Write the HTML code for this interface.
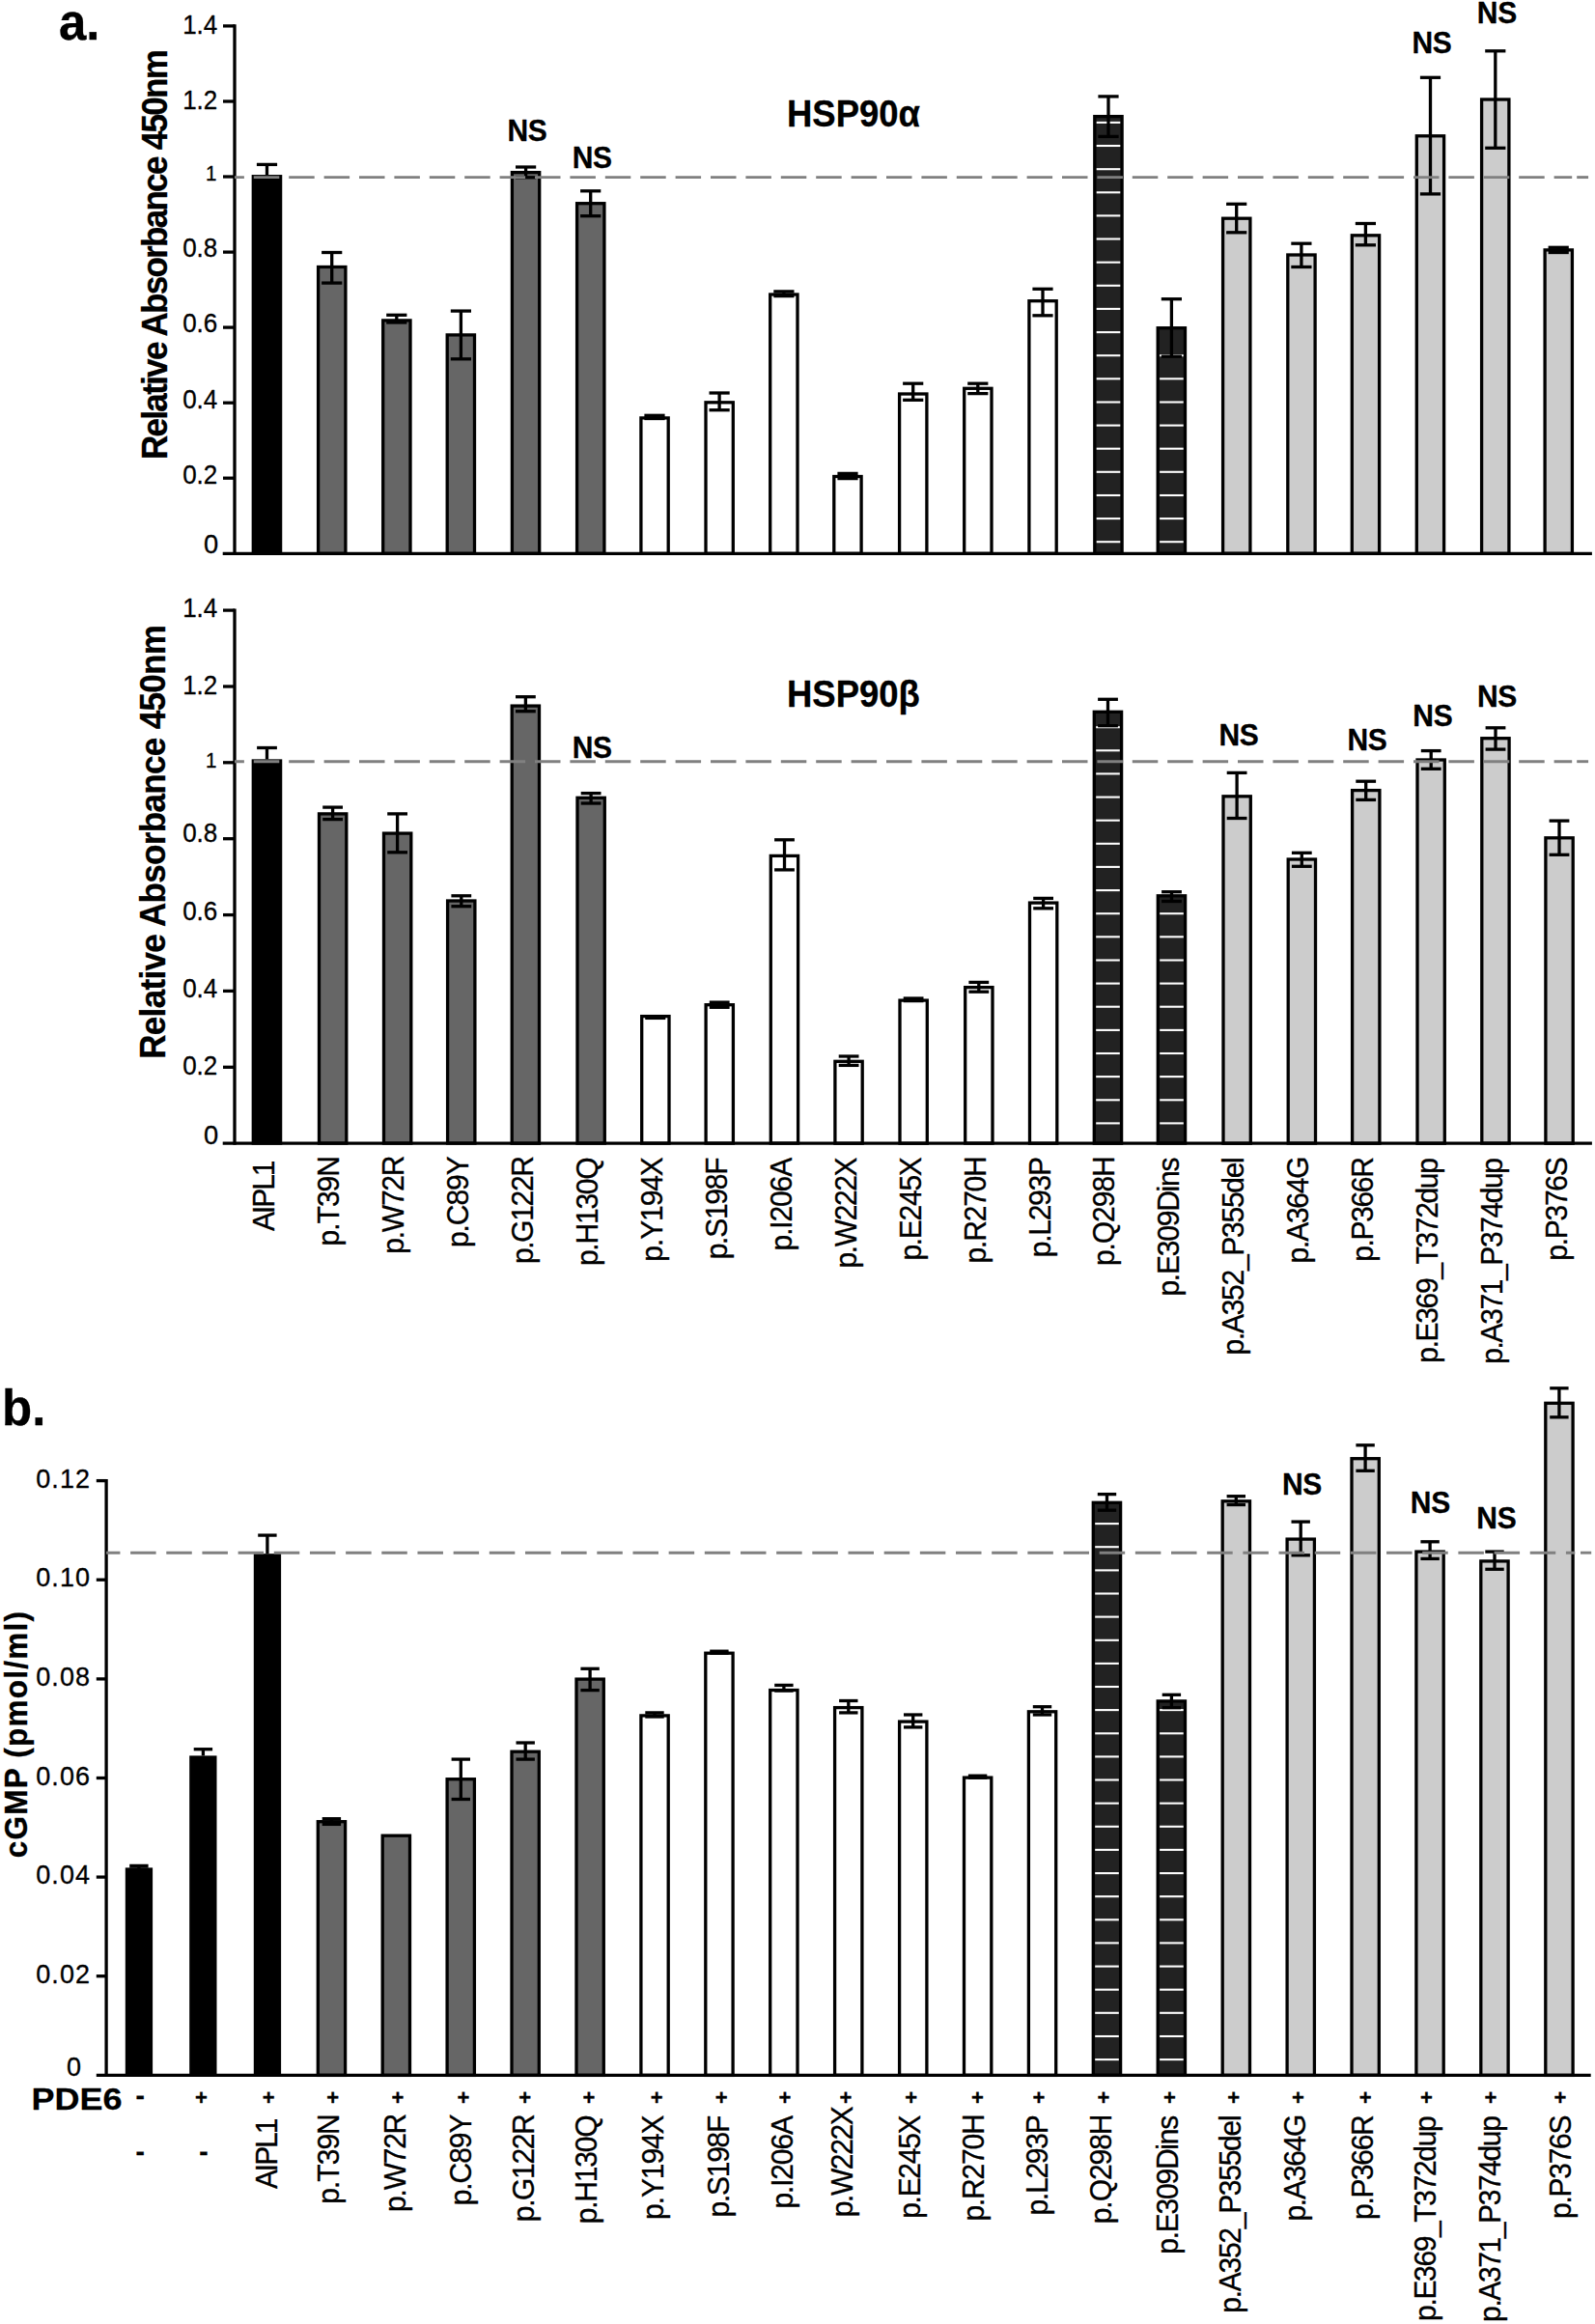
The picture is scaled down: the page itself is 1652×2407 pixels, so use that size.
<!DOCTYPE html>
<html lang="en">
<head>
<meta charset="utf-8">
<title>Figure</title>
<style>
html,body{margin:0;padding:0;background:#fff;}
body{width:1652px;height:2407px;overflow:hidden;}
svg{display:block;}
text{font-family:"Liberation Sans", Arial, Helvetica, sans-serif;stroke:#000;stroke-width:0.3px;stroke-linejoin:round;}
</style>
</head>
<body>
<svg width="1652" height="2407" viewBox="0 0 1652 2407" font-family='"Liberation Sans", Arial, Helvetica, sans-serif' fill="#000">
<rect width="1652" height="2407" fill="#fff"/>
<text transform="translate(61.0 40.7)" font-size="51" font-weight="bold">a.</text>
<text transform="translate(2.0 1475.5)" font-size="51" font-weight="bold">b.</text>
<rect x="262.3" y="182.7" width="28.3" height="390.5" fill="#000" stroke="#000" stroke-width="3.3"/>
<rect x="329.6" y="276.5" width="28.3" height="296.8" fill="#666" stroke="#000" stroke-width="3.3"/>
<rect x="396.7" y="331.9" width="28.3" height="241.4" fill="#666" stroke="#000" stroke-width="3.3"/>
<rect x="463.2" y="346.9" width="28.3" height="226.4" fill="#666" stroke="#000" stroke-width="3.3"/>
<rect x="530.4" y="178.6" width="28.3" height="394.7" fill="#666" stroke="#000" stroke-width="3.3"/>
<rect x="597.6" y="210.7" width="28.3" height="362.6" fill="#666" stroke="#000" stroke-width="3.3"/>
<rect x="663.9" y="432.9" width="28.3" height="140.4" fill="#fff" stroke="#000" stroke-width="3.3"/>
<rect x="731.0" y="416.8" width="28.3" height="156.5" fill="#fff" stroke="#000" stroke-width="3.3"/>
<rect x="797.7" y="305.0" width="28.3" height="268.3" fill="#fff" stroke="#000" stroke-width="3.3"/>
<rect x="863.8" y="493.5" width="28.3" height="79.8" fill="#fff" stroke="#000" stroke-width="3.3"/>
<rect x="931.6" y="408.0" width="28.3" height="165.3" fill="#fff" stroke="#000" stroke-width="3.3"/>
<rect x="998.7" y="402.3" width="28.3" height="171.0" fill="#fff" stroke="#000" stroke-width="3.3"/>
<rect x="1065.9" y="311.7" width="28.3" height="261.6" fill="#fff" stroke="#000" stroke-width="3.3"/>
<rect x="1133.8" y="120.6" width="28.3" height="452.7" fill="#222" stroke="#000" stroke-width="3.3"/>
<line x1="1135.7" x2="1160.3" y1="126.9" y2="126.9" stroke="#fff" stroke-width="2.1"/>
<line x1="1135.7" x2="1160.3" y1="151.0" y2="151.0" stroke="#fff" stroke-width="2.1"/>
<line x1="1135.7" x2="1160.3" y1="175.2" y2="175.2" stroke="#fff" stroke-width="2.1"/>
<line x1="1135.7" x2="1160.3" y1="199.3" y2="199.3" stroke="#fff" stroke-width="2.1"/>
<line x1="1135.7" x2="1160.3" y1="223.4" y2="223.4" stroke="#fff" stroke-width="2.1"/>
<line x1="1135.7" x2="1160.3" y1="247.5" y2="247.5" stroke="#fff" stroke-width="2.1"/>
<line x1="1135.7" x2="1160.3" y1="271.7" y2="271.7" stroke="#fff" stroke-width="2.1"/>
<line x1="1135.7" x2="1160.3" y1="295.8" y2="295.8" stroke="#fff" stroke-width="2.1"/>
<line x1="1135.7" x2="1160.3" y1="319.9" y2="319.9" stroke="#fff" stroke-width="2.1"/>
<line x1="1135.7" x2="1160.3" y1="344.1" y2="344.1" stroke="#fff" stroke-width="2.1"/>
<line x1="1135.7" x2="1160.3" y1="368.2" y2="368.2" stroke="#fff" stroke-width="2.1"/>
<line x1="1135.7" x2="1160.3" y1="392.3" y2="392.3" stroke="#fff" stroke-width="2.1"/>
<line x1="1135.7" x2="1160.3" y1="416.5" y2="416.5" stroke="#fff" stroke-width="2.1"/>
<line x1="1135.7" x2="1160.3" y1="440.6" y2="440.6" stroke="#fff" stroke-width="2.1"/>
<line x1="1135.7" x2="1160.3" y1="464.7" y2="464.7" stroke="#fff" stroke-width="2.1"/>
<line x1="1135.7" x2="1160.3" y1="488.8" y2="488.8" stroke="#fff" stroke-width="2.1"/>
<line x1="1135.7" x2="1160.3" y1="513.0" y2="513.0" stroke="#fff" stroke-width="2.1"/>
<line x1="1135.7" x2="1160.3" y1="537.1" y2="537.1" stroke="#fff" stroke-width="2.1"/>
<line x1="1135.7" x2="1160.3" y1="561.2" y2="561.2" stroke="#fff" stroke-width="2.1"/>
<rect x="1199.2" y="339.7" width="28.3" height="233.6" fill="#222" stroke="#000" stroke-width="3.3"/>
<line x1="1201.1" x2="1225.7" y1="368.2" y2="368.2" stroke="#fff" stroke-width="2.1"/>
<line x1="1201.1" x2="1225.7" y1="392.3" y2="392.3" stroke="#fff" stroke-width="2.1"/>
<line x1="1201.1" x2="1225.7" y1="416.5" y2="416.5" stroke="#fff" stroke-width="2.1"/>
<line x1="1201.1" x2="1225.7" y1="440.6" y2="440.6" stroke="#fff" stroke-width="2.1"/>
<line x1="1201.1" x2="1225.7" y1="464.7" y2="464.7" stroke="#fff" stroke-width="2.1"/>
<line x1="1201.1" x2="1225.7" y1="488.8" y2="488.8" stroke="#fff" stroke-width="2.1"/>
<line x1="1201.1" x2="1225.7" y1="513.0" y2="513.0" stroke="#fff" stroke-width="2.1"/>
<line x1="1201.1" x2="1225.7" y1="537.1" y2="537.1" stroke="#fff" stroke-width="2.1"/>
<line x1="1201.1" x2="1225.7" y1="561.2" y2="561.2" stroke="#fff" stroke-width="2.1"/>
<rect x="1266.6" y="226.2" width="28.3" height="347.0" fill="#ccc" stroke="#000" stroke-width="3.3"/>
<rect x="1333.8" y="264.0" width="28.3" height="309.2" fill="#ccc" stroke="#000" stroke-width="3.3"/>
<rect x="1400.3" y="243.8" width="28.3" height="329.4" fill="#ccc" stroke="#000" stroke-width="3.3"/>
<rect x="1467.3" y="140.8" width="28.3" height="432.5" fill="#ccc" stroke="#000" stroke-width="3.3"/>
<rect x="1534.6" y="103.0" width="28.3" height="470.3" fill="#ccc" stroke="#000" stroke-width="3.3"/>
<rect x="1600.1" y="258.9" width="28.3" height="314.4" fill="#ccc" stroke="#000" stroke-width="3.3"/>
<line x1="276.5" x2="276.5" y1="170.4" y2="181.1" stroke="#000" stroke-width="3.3"/>
<line x1="265.9" x2="287.1" y1="170.4" y2="170.4" stroke="#000" stroke-width="3.3"/>
<line x1="343.7" x2="343.7" y1="261.5" y2="293.1" stroke="#000" stroke-width="3.3"/>
<line x1="333.1" x2="354.3" y1="261.5" y2="261.5" stroke="#000" stroke-width="3.3"/>
<line x1="333.1" x2="354.3" y1="293.1" y2="293.1" stroke="#000" stroke-width="3.3"/>
<line x1="410.8" x2="410.8" y1="326.3" y2="334.0" stroke="#000" stroke-width="3.3"/>
<line x1="400.2" x2="421.4" y1="326.3" y2="326.3" stroke="#000" stroke-width="3.3"/>
<line x1="400.2" x2="421.4" y1="334.0" y2="334.0" stroke="#000" stroke-width="3.3"/>
<line x1="477.4" x2="477.4" y1="322.1" y2="371.8" stroke="#000" stroke-width="3.3"/>
<line x1="466.8" x2="488.0" y1="322.1" y2="322.1" stroke="#000" stroke-width="3.3"/>
<line x1="466.8" x2="488.0" y1="371.8" y2="371.8" stroke="#000" stroke-width="3.3"/>
<line x1="544.6" x2="544.6" y1="173.0" y2="183.8" stroke="#000" stroke-width="3.3"/>
<line x1="534.0" x2="555.2" y1="173.0" y2="173.0" stroke="#000" stroke-width="3.3"/>
<line x1="534.0" x2="555.2" y1="183.8" y2="183.8" stroke="#000" stroke-width="3.3"/>
<line x1="611.7" x2="611.7" y1="197.8" y2="223.7" stroke="#000" stroke-width="3.3"/>
<line x1="601.1" x2="622.3" y1="197.8" y2="197.8" stroke="#000" stroke-width="3.3"/>
<line x1="601.1" x2="622.3" y1="223.7" y2="223.7" stroke="#000" stroke-width="3.3"/>
<line x1="678.0" x2="678.0" y1="430.3" y2="433.5" stroke="#000" stroke-width="3.3"/>
<line x1="667.4" x2="688.6" y1="430.3" y2="430.3" stroke="#000" stroke-width="3.3"/>
<line x1="667.4" x2="688.6" y1="433.5" y2="433.5" stroke="#000" stroke-width="3.3"/>
<line x1="745.1" x2="745.1" y1="407.0" y2="424.7" stroke="#000" stroke-width="3.3"/>
<line x1="734.5" x2="755.7" y1="407.0" y2="407.0" stroke="#000" stroke-width="3.3"/>
<line x1="734.5" x2="755.7" y1="424.7" y2="424.7" stroke="#000" stroke-width="3.3"/>
<line x1="811.9" x2="811.9" y1="301.9" y2="306.6" stroke="#000" stroke-width="3.3"/>
<line x1="801.3" x2="822.5" y1="301.9" y2="301.9" stroke="#000" stroke-width="3.3"/>
<line x1="801.3" x2="822.5" y1="306.6" y2="306.6" stroke="#000" stroke-width="3.3"/>
<line x1="878.0" x2="878.0" y1="490.4" y2="495.6" stroke="#000" stroke-width="3.3"/>
<line x1="867.4" x2="888.6" y1="490.4" y2="490.4" stroke="#000" stroke-width="3.3"/>
<line x1="867.4" x2="888.6" y1="495.6" y2="495.6" stroke="#000" stroke-width="3.3"/>
<line x1="945.7" x2="945.7" y1="397.2" y2="414.3" stroke="#000" stroke-width="3.3"/>
<line x1="935.1" x2="956.3" y1="397.2" y2="397.2" stroke="#000" stroke-width="3.3"/>
<line x1="935.1" x2="956.3" y1="414.3" y2="414.3" stroke="#000" stroke-width="3.3"/>
<line x1="1012.8" x2="1012.8" y1="397.2" y2="407.6" stroke="#000" stroke-width="3.3"/>
<line x1="1002.2" x2="1023.4" y1="397.2" y2="397.2" stroke="#000" stroke-width="3.3"/>
<line x1="1002.2" x2="1023.4" y1="407.6" y2="407.6" stroke="#000" stroke-width="3.3"/>
<line x1="1080.0" x2="1080.0" y1="299.3" y2="326.8" stroke="#000" stroke-width="3.3"/>
<line x1="1069.4" x2="1090.6" y1="299.3" y2="299.3" stroke="#000" stroke-width="3.3"/>
<line x1="1069.4" x2="1090.6" y1="326.8" y2="326.8" stroke="#000" stroke-width="3.3"/>
<line x1="1148.0" x2="1148.0" y1="99.9" y2="141.4" stroke="#000" stroke-width="3.3"/>
<line x1="1137.4" x2="1158.6" y1="99.9" y2="99.9" stroke="#000" stroke-width="3.3"/>
<line x1="1137.4" x2="1158.6" y1="141.4" y2="141.4" stroke="#000" stroke-width="3.3"/>
<line x1="1213.4" x2="1213.4" y1="309.7" y2="369.2" stroke="#000" stroke-width="3.3"/>
<line x1="1202.8" x2="1224.0" y1="309.7" y2="309.7" stroke="#000" stroke-width="3.3"/>
<line x1="1202.8" x2="1224.0" y1="369.2" y2="369.2" stroke="#000" stroke-width="3.3"/>
<line x1="1280.7" x2="1280.7" y1="211.3" y2="240.8" stroke="#000" stroke-width="3.3"/>
<line x1="1270.1" x2="1291.3" y1="211.3" y2="211.3" stroke="#000" stroke-width="3.3"/>
<line x1="1270.1" x2="1291.3" y1="240.8" y2="240.8" stroke="#000" stroke-width="3.3"/>
<line x1="1347.9" x2="1347.9" y1="252.2" y2="276.5" stroke="#000" stroke-width="3.3"/>
<line x1="1337.3" x2="1358.5" y1="252.2" y2="252.2" stroke="#000" stroke-width="3.3"/>
<line x1="1337.3" x2="1358.5" y1="276.5" y2="276.5" stroke="#000" stroke-width="3.3"/>
<line x1="1414.4" x2="1414.4" y1="231.5" y2="253.8" stroke="#000" stroke-width="3.3"/>
<line x1="1403.8" x2="1425.0" y1="231.5" y2="231.5" stroke="#000" stroke-width="3.3"/>
<line x1="1403.8" x2="1425.0" y1="253.8" y2="253.8" stroke="#000" stroke-width="3.3"/>
<line x1="1481.5" x2="1481.5" y1="80.3" y2="200.9" stroke="#000" stroke-width="3.3"/>
<line x1="1470.9" x2="1492.1" y1="80.3" y2="80.3" stroke="#000" stroke-width="3.3"/>
<line x1="1470.9" x2="1492.1" y1="200.9" y2="200.9" stroke="#000" stroke-width="3.3"/>
<line x1="1548.8" x2="1548.8" y1="52.8" y2="153.3" stroke="#000" stroke-width="3.3"/>
<line x1="1538.2" x2="1559.4" y1="52.8" y2="52.8" stroke="#000" stroke-width="3.3"/>
<line x1="1538.2" x2="1559.4" y1="153.3" y2="153.3" stroke="#000" stroke-width="3.3"/>
<line x1="1614.2" x2="1614.2" y1="256.3" y2="261.5" stroke="#000" stroke-width="3.3"/>
<line x1="1603.6" x2="1624.8" y1="256.3" y2="256.3" stroke="#000" stroke-width="3.3"/>
<line x1="1603.6" x2="1624.8" y1="261.5" y2="261.5" stroke="#000" stroke-width="3.3"/>
<line x1="243.0" x2="243.0" y1="25.2" y2="574.9" stroke="#000" stroke-width="3.3"/>
<line x1="230.7" x2="1648.9" y1="573.3" y2="573.3" stroke="#000" stroke-width="3.3"/>
<text transform="translate(226.1 573.0) scale(1 1.04)" font-size="27.3" text-anchor="end">0</text>
<line x1="231" x2="243.0" y1="495.2" y2="495.2" stroke="#000" stroke-width="3.3"/>
<text transform="translate(225.3 501.4) scale(1 1.04)" font-size="26" text-anchor="end">0.2</text>
<line x1="231" x2="243.0" y1="417.2" y2="417.2" stroke="#000" stroke-width="3.3"/>
<text transform="translate(225.3 423.3) scale(1 1.04)" font-size="26" text-anchor="end">0.4</text>
<line x1="231" x2="243.0" y1="339.1" y2="339.1" stroke="#000" stroke-width="3.3"/>
<text transform="translate(225.3 343.9) scale(1 1.04)" font-size="26" text-anchor="end">0.6</text>
<line x1="231" x2="243.0" y1="261.1" y2="261.1" stroke="#000" stroke-width="3.3"/>
<text transform="translate(225.3 266.2) scale(1 1.04)" font-size="26" text-anchor="end">0.8</text>
<line x1="231" x2="243.0" y1="183.0" y2="183.0" stroke="#000" stroke-width="3.3"/>
<text transform="translate(224.3 187.4) scale(1 1.04)" font-size="20.5" text-anchor="end">1</text>
<line x1="231" x2="243.0" y1="105.0" y2="105.0" stroke="#000" stroke-width="3.3"/>
<text transform="translate(225.3 112.8) scale(1 1.04)" font-size="26" text-anchor="end">1.2</text>
<line x1="231" x2="243.0" y1="26.9" y2="26.9" stroke="#000" stroke-width="3.3"/>
<text transform="translate(225.3 34.7) scale(1 1.04)" font-size="26" text-anchor="end">1.4</text>
<line x1="243.0" x2="1628.2" y1="183.6" y2="183.6" stroke="#808080" stroke-width="2.9" stroke-dasharray="26.5 9.9" stroke-dashoffset="16.6"/>
<line x1="1633.2" x2="1645.1" y1="183.6" y2="183.6" stroke="#808080" stroke-width="2.9"/>
<text transform="translate(173.0 476.0) rotate(-90) scale(1 1.04)" font-size="35" font-weight="bold" letter-spacing="-1.69">Relative Absorbance 450nm</text>
<text transform="translate(815.0 131.4) scale(1 1.04)" font-size="36.5" font-weight="bold">HSP90α</text>
<text transform="translate(545.9 146.0) scale(1 1.04)" font-size="30" font-weight="bold" text-anchor="middle" letter-spacing="-0.4">NS</text>
<text transform="translate(613.2 173.5) scale(1 1.04)" font-size="30" font-weight="bold" text-anchor="middle" letter-spacing="-0.4">NS</text>
<text transform="translate(1483.0 55.4) scale(1 1.04)" font-size="30" font-weight="bold" text-anchor="middle" letter-spacing="-0.4">NS</text>
<text transform="translate(1550.3 24.3) scale(1 1.04)" font-size="30" font-weight="bold" text-anchor="middle" letter-spacing="-0.4">NS</text>
<rect x="262.3" y="788.0" width="28.3" height="396.1" fill="#000" stroke="#000" stroke-width="3.3"/>
<rect x="330.5" y="842.9" width="28.3" height="341.2" fill="#666" stroke="#000" stroke-width="3.3"/>
<rect x="397.5" y="863.1" width="28.3" height="321.0" fill="#666" stroke="#000" stroke-width="3.3"/>
<rect x="463.6" y="933.0" width="28.3" height="251.1" fill="#666" stroke="#000" stroke-width="3.3"/>
<rect x="530.2" y="731.1" width="28.3" height="453.1" fill="#666" stroke="#000" stroke-width="3.3"/>
<rect x="598.0" y="826.3" width="28.3" height="357.8" fill="#666" stroke="#000" stroke-width="3.3"/>
<rect x="664.7" y="1052.6" width="28.3" height="131.5" fill="#fff" stroke="#000" stroke-width="3.3"/>
<rect x="731.1" y="1040.7" width="28.3" height="143.4" fill="#fff" stroke="#000" stroke-width="3.3"/>
<rect x="798.3" y="886.4" width="28.3" height="297.7" fill="#fff" stroke="#000" stroke-width="3.3"/>
<rect x="864.9" y="1099.3" width="28.3" height="84.9" fill="#fff" stroke="#000" stroke-width="3.3"/>
<rect x="932.0" y="1036.1" width="28.3" height="148.1" fill="#fff" stroke="#000" stroke-width="3.3"/>
<rect x="999.7" y="1022.6" width="28.3" height="161.5" fill="#fff" stroke="#000" stroke-width="3.3"/>
<rect x="1066.5" y="935.1" width="28.3" height="249.1" fill="#fff" stroke="#000" stroke-width="3.3"/>
<rect x="1133.3" y="737.3" width="28.3" height="446.9" fill="#222" stroke="#000" stroke-width="3.3"/>
<line x1="1135.2" x2="1159.8" y1="753.2" y2="753.2" stroke="#fff" stroke-width="2.1"/>
<line x1="1135.2" x2="1159.8" y1="777.3" y2="777.3" stroke="#fff" stroke-width="2.1"/>
<line x1="1135.2" x2="1159.8" y1="801.4" y2="801.4" stroke="#fff" stroke-width="2.1"/>
<line x1="1135.2" x2="1159.8" y1="825.6" y2="825.6" stroke="#fff" stroke-width="2.1"/>
<line x1="1135.2" x2="1159.8" y1="849.7" y2="849.7" stroke="#fff" stroke-width="2.1"/>
<line x1="1135.2" x2="1159.8" y1="873.8" y2="873.8" stroke="#fff" stroke-width="2.1"/>
<line x1="1135.2" x2="1159.8" y1="897.9" y2="897.9" stroke="#fff" stroke-width="2.1"/>
<line x1="1135.2" x2="1159.8" y1="922.1" y2="922.1" stroke="#fff" stroke-width="2.1"/>
<line x1="1135.2" x2="1159.8" y1="946.2" y2="946.2" stroke="#fff" stroke-width="2.1"/>
<line x1="1135.2" x2="1159.8" y1="970.3" y2="970.3" stroke="#fff" stroke-width="2.1"/>
<line x1="1135.2" x2="1159.8" y1="994.5" y2="994.5" stroke="#fff" stroke-width="2.1"/>
<line x1="1135.2" x2="1159.8" y1="1018.6" y2="1018.6" stroke="#fff" stroke-width="2.1"/>
<line x1="1135.2" x2="1159.8" y1="1042.7" y2="1042.7" stroke="#fff" stroke-width="2.1"/>
<line x1="1135.2" x2="1159.8" y1="1066.9" y2="1066.9" stroke="#fff" stroke-width="2.1"/>
<line x1="1135.2" x2="1159.8" y1="1091.0" y2="1091.0" stroke="#fff" stroke-width="2.1"/>
<line x1="1135.2" x2="1159.8" y1="1115.1" y2="1115.1" stroke="#fff" stroke-width="2.1"/>
<line x1="1135.2" x2="1159.8" y1="1139.3" y2="1139.3" stroke="#fff" stroke-width="2.1"/>
<line x1="1135.2" x2="1159.8" y1="1163.4" y2="1163.4" stroke="#fff" stroke-width="2.1"/>
<rect x="1199.3" y="927.8" width="28.3" height="256.3" fill="#222" stroke="#000" stroke-width="3.3"/>
<line x1="1201.2" x2="1225.8" y1="946.2" y2="946.2" stroke="#fff" stroke-width="2.1"/>
<line x1="1201.2" x2="1225.8" y1="970.3" y2="970.3" stroke="#fff" stroke-width="2.1"/>
<line x1="1201.2" x2="1225.8" y1="994.5" y2="994.5" stroke="#fff" stroke-width="2.1"/>
<line x1="1201.2" x2="1225.8" y1="1018.6" y2="1018.6" stroke="#fff" stroke-width="2.1"/>
<line x1="1201.2" x2="1225.8" y1="1042.7" y2="1042.7" stroke="#fff" stroke-width="2.1"/>
<line x1="1201.2" x2="1225.8" y1="1066.9" y2="1066.9" stroke="#fff" stroke-width="2.1"/>
<line x1="1201.2" x2="1225.8" y1="1091.0" y2="1091.0" stroke="#fff" stroke-width="2.1"/>
<line x1="1201.2" x2="1225.8" y1="1115.1" y2="1115.1" stroke="#fff" stroke-width="2.1"/>
<line x1="1201.2" x2="1225.8" y1="1139.3" y2="1139.3" stroke="#fff" stroke-width="2.1"/>
<line x1="1201.2" x2="1225.8" y1="1163.4" y2="1163.4" stroke="#fff" stroke-width="2.1"/>
<rect x="1267.0" y="824.8" width="28.3" height="359.4" fill="#ccc" stroke="#000" stroke-width="3.3"/>
<rect x="1334.2" y="890.0" width="28.3" height="294.1" fill="#ccc" stroke="#000" stroke-width="3.3"/>
<rect x="1400.6" y="818.6" width="28.3" height="365.6" fill="#ccc" stroke="#000" stroke-width="3.3"/>
<rect x="1468.0" y="787.0" width="28.3" height="397.2" fill="#ccc" stroke="#000" stroke-width="3.3"/>
<rect x="1534.8" y="764.7" width="28.3" height="419.4" fill="#ccc" stroke="#000" stroke-width="3.3"/>
<rect x="1600.9" y="867.8" width="28.3" height="316.4" fill="#ccc" stroke="#000" stroke-width="3.3"/>
<line x1="276.5" x2="276.5" y1="774.5" y2="786.4" stroke="#000" stroke-width="3.3"/>
<line x1="266.1" x2="286.9" y1="774.5" y2="774.5" stroke="#000" stroke-width="3.3"/>
<line x1="344.6" x2="344.6" y1="836.1" y2="848.6" stroke="#000" stroke-width="3.3"/>
<line x1="334.2" x2="355.0" y1="836.1" y2="836.1" stroke="#000" stroke-width="3.3"/>
<line x1="334.2" x2="355.0" y1="848.6" y2="848.6" stroke="#000" stroke-width="3.3"/>
<line x1="411.6" x2="411.6" y1="842.9" y2="882.8" stroke="#000" stroke-width="3.3"/>
<line x1="401.2" x2="422.0" y1="842.9" y2="842.9" stroke="#000" stroke-width="3.3"/>
<line x1="401.2" x2="422.0" y1="882.8" y2="882.8" stroke="#000" stroke-width="3.3"/>
<line x1="477.8" x2="477.8" y1="927.8" y2="938.7" stroke="#000" stroke-width="3.3"/>
<line x1="467.4" x2="488.2" y1="927.8" y2="927.8" stroke="#000" stroke-width="3.3"/>
<line x1="467.4" x2="488.2" y1="938.7" y2="938.7" stroke="#000" stroke-width="3.3"/>
<line x1="544.4" x2="544.4" y1="721.7" y2="736.7" stroke="#000" stroke-width="3.3"/>
<line x1="534.0" x2="554.8" y1="721.7" y2="721.7" stroke="#000" stroke-width="3.3"/>
<line x1="534.0" x2="554.8" y1="736.7" y2="736.7" stroke="#000" stroke-width="3.3"/>
<line x1="612.1" x2="612.1" y1="821.6" y2="832.0" stroke="#000" stroke-width="3.3"/>
<line x1="601.7" x2="622.5" y1="821.6" y2="821.6" stroke="#000" stroke-width="3.3"/>
<line x1="601.7" x2="622.5" y1="832.0" y2="832.0" stroke="#000" stroke-width="3.3"/>
<line x1="678.8" x2="678.8" y1="1053.9" y2="1054.4" stroke="#000" stroke-width="3.3"/>
<line x1="668.4" x2="689.2" y1="1053.9" y2="1053.9" stroke="#000" stroke-width="3.3"/>
<line x1="668.4" x2="689.2" y1="1054.4" y2="1054.4" stroke="#000" stroke-width="3.3"/>
<line x1="745.2" x2="745.2" y1="1038.1" y2="1043.3" stroke="#000" stroke-width="3.3"/>
<line x1="734.8" x2="755.6" y1="1038.1" y2="1038.1" stroke="#000" stroke-width="3.3"/>
<line x1="734.8" x2="755.6" y1="1043.3" y2="1043.3" stroke="#000" stroke-width="3.3"/>
<line x1="812.5" x2="812.5" y1="869.8" y2="900.9" stroke="#000" stroke-width="3.3"/>
<line x1="802.1" x2="822.9" y1="869.8" y2="869.8" stroke="#000" stroke-width="3.3"/>
<line x1="802.1" x2="822.9" y1="900.9" y2="900.9" stroke="#000" stroke-width="3.3"/>
<line x1="879.1" x2="879.1" y1="1094.0" y2="1103.4" stroke="#000" stroke-width="3.3"/>
<line x1="868.7" x2="889.5" y1="1094.0" y2="1094.0" stroke="#000" stroke-width="3.3"/>
<line x1="868.7" x2="889.5" y1="1103.4" y2="1103.4" stroke="#000" stroke-width="3.3"/>
<line x1="946.1" x2="946.1" y1="1034.0" y2="1036.6" stroke="#000" stroke-width="3.3"/>
<line x1="935.7" x2="956.5" y1="1034.0" y2="1034.0" stroke="#000" stroke-width="3.3"/>
<line x1="935.7" x2="956.5" y1="1036.6" y2="1036.6" stroke="#000" stroke-width="3.3"/>
<line x1="1013.8" x2="1013.8" y1="1017.4" y2="1027.2" stroke="#000" stroke-width="3.3"/>
<line x1="1003.4" x2="1024.2" y1="1017.4" y2="1017.4" stroke="#000" stroke-width="3.3"/>
<line x1="1003.4" x2="1024.2" y1="1027.2" y2="1027.2" stroke="#000" stroke-width="3.3"/>
<line x1="1080.6" x2="1080.6" y1="930.4" y2="940.8" stroke="#000" stroke-width="3.3"/>
<line x1="1070.2" x2="1091.0" y1="930.4" y2="930.4" stroke="#000" stroke-width="3.3"/>
<line x1="1070.2" x2="1091.0" y1="940.8" y2="940.8" stroke="#000" stroke-width="3.3"/>
<line x1="1147.5" x2="1147.5" y1="724.3" y2="751.7" stroke="#000" stroke-width="3.3"/>
<line x1="1137.1" x2="1157.9" y1="724.3" y2="724.3" stroke="#000" stroke-width="3.3"/>
<line x1="1137.1" x2="1157.9" y1="751.7" y2="751.7" stroke="#000" stroke-width="3.3"/>
<line x1="1213.5" x2="1213.5" y1="923.7" y2="933.5" stroke="#000" stroke-width="3.3"/>
<line x1="1203.1" x2="1223.9" y1="923.7" y2="923.7" stroke="#000" stroke-width="3.3"/>
<line x1="1203.1" x2="1223.9" y1="933.5" y2="933.5" stroke="#000" stroke-width="3.3"/>
<line x1="1281.1" x2="1281.1" y1="800.4" y2="847.5" stroke="#000" stroke-width="3.3"/>
<line x1="1270.7" x2="1291.5" y1="800.4" y2="800.4" stroke="#000" stroke-width="3.3"/>
<line x1="1270.7" x2="1291.5" y1="847.5" y2="847.5" stroke="#000" stroke-width="3.3"/>
<line x1="1348.3" x2="1348.3" y1="883.3" y2="897.3" stroke="#000" stroke-width="3.3"/>
<line x1="1337.9" x2="1358.7" y1="883.3" y2="883.3" stroke="#000" stroke-width="3.3"/>
<line x1="1337.9" x2="1358.7" y1="897.3" y2="897.3" stroke="#000" stroke-width="3.3"/>
<line x1="1414.7" x2="1414.7" y1="809.2" y2="828.4" stroke="#000" stroke-width="3.3"/>
<line x1="1404.3" x2="1425.1" y1="809.2" y2="809.2" stroke="#000" stroke-width="3.3"/>
<line x1="1404.3" x2="1425.1" y1="828.4" y2="828.4" stroke="#000" stroke-width="3.3"/>
<line x1="1482.2" x2="1482.2" y1="777.6" y2="796.3" stroke="#000" stroke-width="3.3"/>
<line x1="1471.8" x2="1492.6" y1="777.6" y2="777.6" stroke="#000" stroke-width="3.3"/>
<line x1="1471.8" x2="1492.6" y1="796.3" y2="796.3" stroke="#000" stroke-width="3.3"/>
<line x1="1549.0" x2="1549.0" y1="753.8" y2="776.1" stroke="#000" stroke-width="3.3"/>
<line x1="1538.6" x2="1559.4" y1="753.8" y2="753.8" stroke="#000" stroke-width="3.3"/>
<line x1="1538.6" x2="1559.4" y1="776.1" y2="776.1" stroke="#000" stroke-width="3.3"/>
<line x1="1615.0" x2="1615.0" y1="850.1" y2="885.3" stroke="#000" stroke-width="3.3"/>
<line x1="1604.6" x2="1625.4" y1="850.1" y2="850.1" stroke="#000" stroke-width="3.3"/>
<line x1="1604.6" x2="1625.4" y1="885.3" y2="885.3" stroke="#000" stroke-width="3.3"/>
<line x1="243.0" x2="243.0" y1="630.5" y2="1185.8" stroke="#000" stroke-width="3.3"/>
<line x1="230.7" x2="1648.9" y1="1184.2" y2="1184.2" stroke="#000" stroke-width="3.3"/>
<text transform="translate(226.1 1184.9) scale(1 1.04)" font-size="27.3" text-anchor="end">0</text>
<line x1="231" x2="243.0" y1="1105.3" y2="1105.3" stroke="#000" stroke-width="3.3"/>
<text transform="translate(225.3 1112.6) scale(1 1.04)" font-size="26" text-anchor="end">0.2</text>
<line x1="231" x2="243.0" y1="1026.4" y2="1026.4" stroke="#000" stroke-width="3.3"/>
<text transform="translate(225.3 1032.6) scale(1 1.04)" font-size="26" text-anchor="end">0.4</text>
<line x1="231" x2="243.0" y1="947.6" y2="947.6" stroke="#000" stroke-width="3.3"/>
<text transform="translate(225.3 952.6) scale(1 1.04)" font-size="26" text-anchor="end">0.6</text>
<line x1="231" x2="243.0" y1="868.7" y2="868.7" stroke="#000" stroke-width="3.3"/>
<text transform="translate(225.3 872.3) scale(1 1.04)" font-size="26" text-anchor="end">0.8</text>
<line x1="231" x2="243.0" y1="789.8" y2="789.8" stroke="#000" stroke-width="3.3"/>
<text transform="translate(224.3 794.7) scale(1 1.04)" font-size="20.5" text-anchor="end">1</text>
<line x1="231" x2="243.0" y1="711.0" y2="711.0" stroke="#000" stroke-width="3.3"/>
<text transform="translate(225.3 718.5) scale(1 1.04)" font-size="26" text-anchor="end">1.2</text>
<line x1="231" x2="243.0" y1="632.1" y2="632.1" stroke="#000" stroke-width="3.3"/>
<text transform="translate(225.3 638.6) scale(1 1.04)" font-size="26" text-anchor="end">1.4</text>
<line x1="243.0" x2="1628.2" y1="788.7" y2="788.7" stroke="#808080" stroke-width="2.9" stroke-dasharray="26.5 9.9" stroke-dashoffset="16.6"/>
<line x1="1633.2" x2="1645.1" y1="788.7" y2="788.7" stroke="#808080" stroke-width="2.9"/>
<text transform="translate(171.3 1096.8) rotate(-90) scale(1 1.04)" font-size="35" font-weight="bold" letter-spacing="-0.65">Relative Absorbance 450nm</text>
<text transform="translate(815.0 732.0) scale(1 1.04)" font-size="36.5" font-weight="bold">HSP90β</text>
<text transform="translate(613.2 784.5) scale(1 1.04)" font-size="30" font-weight="bold" text-anchor="middle" letter-spacing="-0.4">NS</text>
<text transform="translate(1282.9 771.6) scale(1 1.04)" font-size="30" font-weight="bold" text-anchor="middle" letter-spacing="-0.4">NS</text>
<text transform="translate(1416.0 776.7) scale(1 1.04)" font-size="30" font-weight="bold" text-anchor="middle" letter-spacing="-0.4">NS</text>
<text transform="translate(1483.8 751.9) scale(1 1.04)" font-size="30" font-weight="bold" text-anchor="middle" letter-spacing="-0.4">NS</text>
<text transform="translate(1550.4 731.7) scale(1 1.04)" font-size="30" font-weight="bold" text-anchor="middle" letter-spacing="-0.4">NS</text>
<text transform="translate(284.2 1275.0) rotate(-90) scale(1 1.04)" font-size="30" letter-spacing="-2.05">AIPL1</text>
<text transform="translate(351.1 1290.5) rotate(-90) scale(1 1.04)" font-size="30" letter-spacing="-0.98">p.T39N</text>
<text transform="translate(418.1 1298.7) rotate(-90) scale(1 1.04)" font-size="30" letter-spacing="-1.23">p.W72R</text>
<text transform="translate(485.0 1292.1) rotate(-90) scale(1 1.04)" font-size="30" letter-spacing="-1.05">p.C89Y</text>
<text transform="translate(552.0 1309.0) rotate(-90) scale(1 1.04)" font-size="30" letter-spacing="-1.35">p.G122R</text>
<text transform="translate(618.9 1311.1) rotate(-90) scale(1 1.04)" font-size="30" letter-spacing="-1.21">p.H130Q</text>
<text transform="translate(685.8 1306.7) rotate(-90) scale(1 1.04)" font-size="30" letter-spacing="-1.09">p.Y194X</text>
<text transform="translate(752.8 1304.3) rotate(-90) scale(1 1.04)" font-size="30" letter-spacing="-1.26">p.S198F</text>
<text transform="translate(819.7 1295.4) rotate(-90) scale(1 1.04)" font-size="30" letter-spacing="-1.14">p.I206A</text>
<text transform="translate(886.7 1313.5) rotate(-90) scale(1 1.04)" font-size="30" letter-spacing="-1.38">p.W222X</text>
<text transform="translate(953.6 1305.6) rotate(-90) scale(1 1.04)" font-size="30" letter-spacing="-1.27">p.E245X</text>
<text transform="translate(1020.5 1308.4) rotate(-90) scale(1 1.04)" font-size="30" letter-spacing="-1.2">p.R270H</text>
<text transform="translate(1087.5 1302.2) rotate(-90) scale(1 1.04)" font-size="30" letter-spacing="-1.27">p.L293P</text>
<text transform="translate(1154.4 1311.1) rotate(-90) scale(1 1.04)" font-size="30" letter-spacing="-1.04">p.Q298H</text>
<text transform="translate(1221.4 1342.6) rotate(-90) scale(1 1.04)" font-size="30" letter-spacing="-1.22">p.E309Dins</text>
<text transform="translate(1288.3 1403.5) rotate(-90) scale(1 1.04)" font-size="30" letter-spacing="-1.27">p.A352_P355del</text>
<text transform="translate(1355.2 1308.4) rotate(-90) scale(1 1.04)" font-size="30" letter-spacing="-1.24">p.A364G</text>
<text transform="translate(1422.2 1306.7) rotate(-90) scale(1 1.04)" font-size="30" letter-spacing="-1.36">p.P366R</text>
<text transform="translate(1489.1 1411.7) rotate(-90) scale(1 1.04)" font-size="30" letter-spacing="-1.35">p.E369_T372dup</text>
<text transform="translate(1556.1 1412.7) rotate(-90) scale(1 1.04)" font-size="30" letter-spacing="-1.39">p.A371_P374dup</text>
<text transform="translate(1623.0 1305.7) rotate(-90) scale(1 1.04)" font-size="30" letter-spacing="-1.27">p.P376S</text>
<rect x="129.8" y="1934.4" width="28.3" height="214.9" fill="#000"/>
<rect x="196.2" y="1818.4" width="28.3" height="330.9" fill="#000"/>
<rect x="262.8" y="1609.2" width="28.3" height="540.2" fill="#000"/>
<rect x="329.3" y="1886.7" width="28.3" height="262.7" fill="#666" stroke="#000" stroke-width="3.3"/>
<rect x="396.2" y="1901.2" width="28.3" height="248.2" fill="#666" stroke="#000" stroke-width="3.3"/>
<rect x="463.1" y="1842.7" width="28.3" height="306.7" fill="#666" stroke="#000" stroke-width="3.3"/>
<rect x="530.0" y="1814.2" width="28.3" height="335.2" fill="#666" stroke="#000" stroke-width="3.3"/>
<rect x="597.0" y="1739.1" width="28.3" height="410.3" fill="#666" stroke="#000" stroke-width="3.3"/>
<rect x="663.9" y="1776.9" width="28.3" height="372.5" fill="#fff" stroke="#000" stroke-width="3.3"/>
<rect x="730.8" y="1712.2" width="28.3" height="437.2" fill="#fff" stroke="#000" stroke-width="3.3"/>
<rect x="797.7" y="1750.5" width="28.3" height="398.9" fill="#fff" stroke="#000" stroke-width="3.3"/>
<rect x="864.6" y="1768.6" width="28.3" height="380.7" fill="#fff" stroke="#000" stroke-width="3.3"/>
<rect x="931.6" y="1783.1" width="28.3" height="366.2" fill="#fff" stroke="#000" stroke-width="3.3"/>
<rect x="998.5" y="1841.1" width="28.3" height="308.2" fill="#fff" stroke="#000" stroke-width="3.3"/>
<rect x="1065.4" y="1772.8" width="28.3" height="376.6" fill="#fff" stroke="#000" stroke-width="3.3"/>
<rect x="1132.3" y="1556.3" width="28.3" height="593.1" fill="#222" stroke="#000" stroke-width="3.3"/>
<line x1="1134.2" x2="1158.8" y1="1578.1" y2="1578.1" stroke="#fff" stroke-width="2.1"/>
<line x1="1134.2" x2="1158.8" y1="1602.2" y2="1602.2" stroke="#fff" stroke-width="2.1"/>
<line x1="1134.2" x2="1158.8" y1="1626.4" y2="1626.4" stroke="#fff" stroke-width="2.1"/>
<line x1="1134.2" x2="1158.8" y1="1650.5" y2="1650.5" stroke="#fff" stroke-width="2.1"/>
<line x1="1134.2" x2="1158.8" y1="1674.6" y2="1674.6" stroke="#fff" stroke-width="2.1"/>
<line x1="1134.2" x2="1158.8" y1="1698.8" y2="1698.8" stroke="#fff" stroke-width="2.1"/>
<line x1="1134.2" x2="1158.8" y1="1722.9" y2="1722.9" stroke="#fff" stroke-width="2.1"/>
<line x1="1134.2" x2="1158.8" y1="1747.0" y2="1747.0" stroke="#fff" stroke-width="2.1"/>
<line x1="1134.2" x2="1158.8" y1="1771.1" y2="1771.1" stroke="#fff" stroke-width="2.1"/>
<line x1="1134.2" x2="1158.8" y1="1795.3" y2="1795.3" stroke="#fff" stroke-width="2.1"/>
<line x1="1134.2" x2="1158.8" y1="1819.4" y2="1819.4" stroke="#fff" stroke-width="2.1"/>
<line x1="1134.2" x2="1158.8" y1="1843.5" y2="1843.5" stroke="#fff" stroke-width="2.1"/>
<line x1="1134.2" x2="1158.8" y1="1867.7" y2="1867.7" stroke="#fff" stroke-width="2.1"/>
<line x1="1134.2" x2="1158.8" y1="1891.8" y2="1891.8" stroke="#fff" stroke-width="2.1"/>
<line x1="1134.2" x2="1158.8" y1="1915.9" y2="1915.9" stroke="#fff" stroke-width="2.1"/>
<line x1="1134.2" x2="1158.8" y1="1940.1" y2="1940.1" stroke="#fff" stroke-width="2.1"/>
<line x1="1134.2" x2="1158.8" y1="1964.2" y2="1964.2" stroke="#fff" stroke-width="2.1"/>
<line x1="1134.2" x2="1158.8" y1="1988.3" y2="1988.3" stroke="#fff" stroke-width="2.1"/>
<line x1="1134.2" x2="1158.8" y1="2012.4" y2="2012.4" stroke="#fff" stroke-width="2.1"/>
<line x1="1134.2" x2="1158.8" y1="2036.6" y2="2036.6" stroke="#fff" stroke-width="2.1"/>
<line x1="1134.2" x2="1158.8" y1="2060.7" y2="2060.7" stroke="#fff" stroke-width="2.1"/>
<line x1="1134.2" x2="1158.8" y1="2084.8" y2="2084.8" stroke="#fff" stroke-width="2.1"/>
<line x1="1134.2" x2="1158.8" y1="2109.0" y2="2109.0" stroke="#fff" stroke-width="2.1"/>
<line x1="1134.2" x2="1158.8" y1="2133.1" y2="2133.1" stroke="#fff" stroke-width="2.1"/>
<rect x="1199.2" y="1761.9" width="28.3" height="387.5" fill="#222" stroke="#000" stroke-width="3.3"/>
<line x1="1201.1" x2="1225.7" y1="1771.1" y2="1771.1" stroke="#fff" stroke-width="2.1"/>
<line x1="1201.1" x2="1225.7" y1="1795.3" y2="1795.3" stroke="#fff" stroke-width="2.1"/>
<line x1="1201.1" x2="1225.7" y1="1819.4" y2="1819.4" stroke="#fff" stroke-width="2.1"/>
<line x1="1201.1" x2="1225.7" y1="1843.5" y2="1843.5" stroke="#fff" stroke-width="2.1"/>
<line x1="1201.1" x2="1225.7" y1="1867.7" y2="1867.7" stroke="#fff" stroke-width="2.1"/>
<line x1="1201.1" x2="1225.7" y1="1891.8" y2="1891.8" stroke="#fff" stroke-width="2.1"/>
<line x1="1201.1" x2="1225.7" y1="1915.9" y2="1915.9" stroke="#fff" stroke-width="2.1"/>
<line x1="1201.1" x2="1225.7" y1="1940.1" y2="1940.1" stroke="#fff" stroke-width="2.1"/>
<line x1="1201.1" x2="1225.7" y1="1964.2" y2="1964.2" stroke="#fff" stroke-width="2.1"/>
<line x1="1201.1" x2="1225.7" y1="1988.3" y2="1988.3" stroke="#fff" stroke-width="2.1"/>
<line x1="1201.1" x2="1225.7" y1="2012.4" y2="2012.4" stroke="#fff" stroke-width="2.1"/>
<line x1="1201.1" x2="1225.7" y1="2036.6" y2="2036.6" stroke="#fff" stroke-width="2.1"/>
<line x1="1201.1" x2="1225.7" y1="2060.7" y2="2060.7" stroke="#fff" stroke-width="2.1"/>
<line x1="1201.1" x2="1225.7" y1="2084.8" y2="2084.8" stroke="#fff" stroke-width="2.1"/>
<line x1="1201.1" x2="1225.7" y1="2109.0" y2="2109.0" stroke="#fff" stroke-width="2.1"/>
<line x1="1201.1" x2="1225.7" y1="2133.1" y2="2133.1" stroke="#fff" stroke-width="2.1"/>
<rect x="1266.2" y="1554.8" width="28.3" height="594.6" fill="#ccc" stroke="#000" stroke-width="3.3"/>
<rect x="1333.1" y="1594.1" width="28.3" height="555.3" fill="#ccc" stroke="#000" stroke-width="3.3"/>
<rect x="1400.0" y="1510.7" width="28.3" height="638.6" fill="#ccc" stroke="#000" stroke-width="3.3"/>
<rect x="1466.9" y="1607.1" width="28.3" height="542.3" fill="#ccc" stroke="#000" stroke-width="3.3"/>
<rect x="1533.8" y="1616.9" width="28.3" height="532.5" fill="#ccc" stroke="#000" stroke-width="3.3"/>
<rect x="1600.8" y="1453.3" width="28.3" height="696.1" fill="#ccc" stroke="#000" stroke-width="3.3"/>
<line x1="143.9" x2="143.9" y1="1932.4" y2="1936.0" stroke="#000" stroke-width="3.3"/>
<line x1="134.2" x2="153.6" y1="1932.4" y2="1932.4" stroke="#000" stroke-width="3.3"/>
<line x1="134.2" x2="153.6" y1="1936.0" y2="1936.0" stroke="#000" stroke-width="3.3"/>
<line x1="210.4" x2="210.4" y1="1811.7" y2="1818.4" stroke="#000" stroke-width="3.3"/>
<line x1="200.7" x2="220.1" y1="1811.7" y2="1811.7" stroke="#000" stroke-width="3.3"/>
<line x1="276.9" x2="276.9" y1="1590.1" y2="1609.2" stroke="#000" stroke-width="3.3"/>
<line x1="267.2" x2="286.6" y1="1590.1" y2="1590.1" stroke="#000" stroke-width="3.3"/>
<line x1="343.4" x2="343.4" y1="1883.7" y2="1889.4" stroke="#000" stroke-width="3.3"/>
<line x1="333.7" x2="353.1" y1="1883.7" y2="1883.7" stroke="#000" stroke-width="3.3"/>
<line x1="333.7" x2="353.1" y1="1889.4" y2="1889.4" stroke="#000" stroke-width="3.3"/>
<line x1="477.3" x2="477.3" y1="1822.1" y2="1863.5" stroke="#000" stroke-width="3.3"/>
<line x1="467.6" x2="487.0" y1="1822.1" y2="1822.1" stroke="#000" stroke-width="3.3"/>
<line x1="467.6" x2="487.0" y1="1863.5" y2="1863.5" stroke="#000" stroke-width="3.3"/>
<line x1="544.2" x2="544.2" y1="1805.0" y2="1822.1" stroke="#000" stroke-width="3.3"/>
<line x1="534.5" x2="553.9" y1="1805.0" y2="1805.0" stroke="#000" stroke-width="3.3"/>
<line x1="534.5" x2="553.9" y1="1822.1" y2="1822.1" stroke="#000" stroke-width="3.3"/>
<line x1="611.1" x2="611.1" y1="1728.3" y2="1750.6" stroke="#000" stroke-width="3.3"/>
<line x1="601.4" x2="620.8" y1="1728.3" y2="1728.3" stroke="#000" stroke-width="3.3"/>
<line x1="601.4" x2="620.8" y1="1750.6" y2="1750.6" stroke="#000" stroke-width="3.3"/>
<line x1="678.0" x2="678.0" y1="1773.9" y2="1778.0" stroke="#000" stroke-width="3.3"/>
<line x1="668.3" x2="687.7" y1="1773.9" y2="1773.9" stroke="#000" stroke-width="3.3"/>
<line x1="668.3" x2="687.7" y1="1778.0" y2="1778.0" stroke="#000" stroke-width="3.3"/>
<line x1="744.9" x2="744.9" y1="1710.2" y2="1712.3" stroke="#000" stroke-width="3.3"/>
<line x1="735.2" x2="754.6" y1="1710.2" y2="1710.2" stroke="#000" stroke-width="3.3"/>
<line x1="735.2" x2="754.6" y1="1712.3" y2="1712.3" stroke="#000" stroke-width="3.3"/>
<line x1="811.9" x2="811.9" y1="1745.4" y2="1751.1" stroke="#000" stroke-width="3.3"/>
<line x1="802.2" x2="821.6" y1="1745.4" y2="1745.4" stroke="#000" stroke-width="3.3"/>
<line x1="802.2" x2="821.6" y1="1751.1" y2="1751.1" stroke="#000" stroke-width="3.3"/>
<line x1="878.8" x2="878.8" y1="1761.5" y2="1773.9" stroke="#000" stroke-width="3.3"/>
<line x1="869.1" x2="888.5" y1="1761.5" y2="1761.5" stroke="#000" stroke-width="3.3"/>
<line x1="869.1" x2="888.5" y1="1773.9" y2="1773.9" stroke="#000" stroke-width="3.3"/>
<line x1="945.7" x2="945.7" y1="1776.0" y2="1788.9" stroke="#000" stroke-width="3.3"/>
<line x1="936.0" x2="955.4" y1="1776.0" y2="1776.0" stroke="#000" stroke-width="3.3"/>
<line x1="936.0" x2="955.4" y1="1788.9" y2="1788.9" stroke="#000" stroke-width="3.3"/>
<line x1="1012.6" x2="1012.6" y1="1839.2" y2="1841.2" stroke="#000" stroke-width="3.3"/>
<line x1="1002.9" x2="1022.3" y1="1839.2" y2="1839.2" stroke="#000" stroke-width="3.3"/>
<line x1="1002.9" x2="1022.3" y1="1841.2" y2="1841.2" stroke="#000" stroke-width="3.3"/>
<line x1="1079.5" x2="1079.5" y1="1767.7" y2="1776.0" stroke="#000" stroke-width="3.3"/>
<line x1="1069.8" x2="1089.2" y1="1767.7" y2="1767.7" stroke="#000" stroke-width="3.3"/>
<line x1="1069.8" x2="1089.2" y1="1776.0" y2="1776.0" stroke="#000" stroke-width="3.3"/>
<line x1="1146.5" x2="1146.5" y1="1547.6" y2="1564.2" stroke="#000" stroke-width="3.3"/>
<line x1="1136.8" x2="1156.2" y1="1547.6" y2="1547.6" stroke="#000" stroke-width="3.3"/>
<line x1="1136.8" x2="1156.2" y1="1564.2" y2="1564.2" stroke="#000" stroke-width="3.3"/>
<line x1="1213.4" x2="1213.4" y1="1755.3" y2="1768.7" stroke="#000" stroke-width="3.3"/>
<line x1="1203.7" x2="1223.1" y1="1755.3" y2="1755.3" stroke="#000" stroke-width="3.3"/>
<line x1="1203.7" x2="1223.1" y1="1768.7" y2="1768.7" stroke="#000" stroke-width="3.3"/>
<line x1="1280.3" x2="1280.3" y1="1549.7" y2="1558.5" stroke="#000" stroke-width="3.3"/>
<line x1="1270.6" x2="1290.0" y1="1549.7" y2="1549.7" stroke="#000" stroke-width="3.3"/>
<line x1="1270.6" x2="1290.0" y1="1558.5" y2="1558.5" stroke="#000" stroke-width="3.3"/>
<line x1="1347.2" x2="1347.2" y1="1576.1" y2="1610.8" stroke="#000" stroke-width="3.3"/>
<line x1="1337.5" x2="1356.9" y1="1576.1" y2="1576.1" stroke="#000" stroke-width="3.3"/>
<line x1="1337.5" x2="1356.9" y1="1610.8" y2="1610.8" stroke="#000" stroke-width="3.3"/>
<line x1="1414.1" x2="1414.1" y1="1496.8" y2="1523.3" stroke="#000" stroke-width="3.3"/>
<line x1="1404.4" x2="1423.8" y1="1496.8" y2="1496.8" stroke="#000" stroke-width="3.3"/>
<line x1="1404.4" x2="1423.8" y1="1523.3" y2="1523.3" stroke="#000" stroke-width="3.3"/>
<line x1="1481.1" x2="1481.1" y1="1596.8" y2="1614.4" stroke="#000" stroke-width="3.3"/>
<line x1="1471.4" x2="1490.8" y1="1596.8" y2="1596.8" stroke="#000" stroke-width="3.3"/>
<line x1="1471.4" x2="1490.8" y1="1614.4" y2="1614.4" stroke="#000" stroke-width="3.3"/>
<line x1="1548.0" x2="1548.0" y1="1607.1" y2="1625.3" stroke="#000" stroke-width="3.3"/>
<line x1="1538.3" x2="1557.7" y1="1607.1" y2="1607.1" stroke="#000" stroke-width="3.3"/>
<line x1="1538.3" x2="1557.7" y1="1625.3" y2="1625.3" stroke="#000" stroke-width="3.3"/>
<line x1="1614.9" x2="1614.9" y1="1437.8" y2="1467.8" stroke="#000" stroke-width="3.3"/>
<line x1="1605.2" x2="1624.6" y1="1437.8" y2="1437.8" stroke="#000" stroke-width="3.3"/>
<line x1="1605.2" x2="1624.6" y1="1467.8" y2="1467.8" stroke="#000" stroke-width="3.3"/>
<line x1="110.1" x2="110.1" y1="1531.9" y2="2151.0" stroke="#000" stroke-width="3.3"/>
<line x1="99.8" x2="1647.7" y1="2149.4" y2="2149.4" stroke="#000" stroke-width="3.3"/>
<line x1="110.1" x2="1631.3" y1="1608.2" y2="1608.2" stroke="#808080" stroke-width="2.9" stroke-dasharray="26.5 10.67" stroke-dashoffset="12.17"/>
<line x1="1637" x2="1648.2" y1="1608.2" y2="1608.2" stroke="#808080" stroke-width="2.9"/>
<text transform="translate(85.1 2149.9) scale(1 1.04)" font-size="27" text-anchor="end" letter-spacing="1.1">0</text>
<line x1="99.8" x2="110.1" y1="2046.7" y2="2046.7" stroke="#000" stroke-width="3.3"/>
<text transform="translate(94.1 2053.7) scale(1 1.04)" font-size="27" text-anchor="end" letter-spacing="1.1">0.02</text>
<line x1="99.8" x2="110.1" y1="1944.1" y2="1944.1" stroke="#000" stroke-width="3.3"/>
<text transform="translate(94.1 1951.1) scale(1 1.04)" font-size="27" text-anchor="end" letter-spacing="1.1">0.04</text>
<line x1="99.8" x2="110.1" y1="1841.5" y2="1841.5" stroke="#000" stroke-width="3.3"/>
<text transform="translate(94.1 1848.5) scale(1 1.04)" font-size="27" text-anchor="end" letter-spacing="1.1">0.06</text>
<line x1="99.8" x2="110.1" y1="1738.9" y2="1738.9" stroke="#000" stroke-width="3.3"/>
<text transform="translate(94.1 1745.9) scale(1 1.04)" font-size="27" text-anchor="end" letter-spacing="1.1">0.08</text>
<line x1="99.8" x2="110.1" y1="1636.2" y2="1636.2" stroke="#000" stroke-width="3.3"/>
<text transform="translate(94.1 1643.2) scale(1 1.04)" font-size="27" text-anchor="end" letter-spacing="1.1">0.10</text>
<line x1="99.8" x2="110.1" y1="1533.6" y2="1533.6" stroke="#000" stroke-width="3.3"/>
<text transform="translate(94.1 1540.6) scale(1 1.04)" font-size="27" text-anchor="end" letter-spacing="1.1">0.12</text>
<text transform="translate(27.9 1924.2) rotate(-90) scale(1 1.04)" font-size="31.5" font-weight="bold" letter-spacing="1.23">cGMP (pmol/ml)</text>
<text transform="translate(1348.4 1548.1) scale(1 1.04)" font-size="30" font-weight="bold" text-anchor="middle" letter-spacing="-0.4">NS</text>
<text transform="translate(1481.3 1567.3) scale(1 1.04)" font-size="30" font-weight="bold" text-anchor="middle" letter-spacing="-0.4">NS</text>
<text transform="translate(1549.8 1582.8) scale(1 1.04)" font-size="30" font-weight="bold" text-anchor="middle" letter-spacing="-0.4">NS</text>
<text transform="translate(32.4 2185.0) scale(1 0.895)" font-size="36" font-weight="bold">PDE6</text>
<text transform="translate(145.1 2180.3)" font-size="28" font-weight="bold" text-anchor="middle">-</text>
<text transform="translate(208.5 2179.5)" font-size="22" font-weight="bold" text-anchor="middle">+</text>
<text transform="translate(278.1 2179.5)" font-size="22" font-weight="bold" text-anchor="middle">+</text>
<text transform="translate(344.7 2179.5)" font-size="22" font-weight="bold" text-anchor="middle">+</text>
<text transform="translate(411.9 2179.5)" font-size="22" font-weight="bold" text-anchor="middle">+</text>
<text transform="translate(480.0 2179.5)" font-size="22" font-weight="bold" text-anchor="middle">+</text>
<text transform="translate(543.7 2179.5)" font-size="22" font-weight="bold" text-anchor="middle">+</text>
<text transform="translate(610.0 2179.5)" font-size="22" font-weight="bold" text-anchor="middle">+</text>
<text transform="translate(680.2 2179.5)" font-size="22" font-weight="bold" text-anchor="middle">+</text>
<text transform="translate(747.1 2179.5)" font-size="22" font-weight="bold" text-anchor="middle">+</text>
<text transform="translate(812.8 2179.5)" font-size="22" font-weight="bold" text-anchor="middle">+</text>
<text transform="translate(876.0 2179.5)" font-size="22" font-weight="bold" text-anchor="middle">+</text>
<text transform="translate(943.7 2179.5)" font-size="22" font-weight="bold" text-anchor="middle">+</text>
<text transform="translate(1012.4 2179.5)" font-size="22" font-weight="bold" text-anchor="middle">+</text>
<text transform="translate(1075.8 2179.5)" font-size="22" font-weight="bold" text-anchor="middle">+</text>
<text transform="translate(1142.8 2179.5)" font-size="22" font-weight="bold" text-anchor="middle">+</text>
<text transform="translate(1211.5 2179.5)" font-size="22" font-weight="bold" text-anchor="middle">+</text>
<text transform="translate(1277.7 2179.5)" font-size="22" font-weight="bold" text-anchor="middle">+</text>
<text transform="translate(1344.3 2179.5)" font-size="22" font-weight="bold" text-anchor="middle">+</text>
<text transform="translate(1414.1 2179.5)" font-size="22" font-weight="bold" text-anchor="middle">+</text>
<text transform="translate(1477.5 2179.5)" font-size="22" font-weight="bold" text-anchor="middle">+</text>
<text transform="translate(1543.9 2179.5)" font-size="22" font-weight="bold" text-anchor="middle">+</text>
<text transform="translate(1616.0 2179.5)" font-size="22" font-weight="bold" text-anchor="middle">+</text>
<text transform="translate(145.1 2238.1)" font-size="28" font-weight="bold" text-anchor="middle">-</text>
<text transform="translate(210.8 2238.1)" font-size="28" font-weight="bold" text-anchor="middle">-</text>
<text transform="translate(287.4 2267.1) rotate(-90) scale(1 1.04)" font-size="30" letter-spacing="-2.05">AIPL1</text>
<text transform="translate(351.4 2282.7) rotate(-90) scale(1 1.04)" font-size="30" letter-spacing="-0.98">p.T39N</text>
<text transform="translate(420.0 2290.9) rotate(-90) scale(1 1.04)" font-size="30" letter-spacing="-1.23">p.W72R</text>
<text transform="translate(488.4 2284.3) rotate(-90) scale(1 1.04)" font-size="30" letter-spacing="-1.05">p.C89Y</text>
<text transform="translate(552.6 2301.2) rotate(-90) scale(1 1.04)" font-size="30" letter-spacing="-1.35">p.G122R</text>
<text transform="translate(618.0 2303.3) rotate(-90) scale(1 1.04)" font-size="30" letter-spacing="-1.21">p.H130Q</text>
<text transform="translate(687.2 2298.9) rotate(-90) scale(1 1.04)" font-size="30" letter-spacing="-1.09">p.Y194X</text>
<text transform="translate(754.5 2296.5) rotate(-90) scale(1 1.04)" font-size="30" letter-spacing="-1.26">p.S198F</text>
<text transform="translate(821.3 2287.6) rotate(-90) scale(1 1.04)" font-size="30" letter-spacing="-1.14">p.I206A</text>
<text transform="translate(883.2 2296.3) rotate(-90) scale(1 1.04)" font-size="30" letter-spacing="-1.38">p.W222X</text>
<text transform="translate(952.5 2297.8) rotate(-90) scale(1 1.04)" font-size="30" letter-spacing="-1.28">p.E245X</text>
<text transform="translate(1018.7 2300.6) rotate(-90) scale(1 1.04)" font-size="30" letter-spacing="-1.2">p.R270H</text>
<text transform="translate(1085.1 2294.4) rotate(-90) scale(1 1.04)" font-size="30" letter-spacing="-1.28">p.L293P</text>
<text transform="translate(1151.3 2303.3) rotate(-90) scale(1 1.04)" font-size="30" letter-spacing="-1.04">p.Q298H</text>
<text transform="translate(1220.0 2334.8) rotate(-90) scale(1 1.04)" font-size="30" letter-spacing="-1.22">p.E309Dins</text>
<text transform="translate(1284.8 2395.7) rotate(-90) scale(1 1.04)" font-size="30" letter-spacing="-1.27">p.A352_P355del</text>
<text transform="translate(1352.0 2300.6) rotate(-90) scale(1 1.04)" font-size="30" letter-spacing="-1.24">p.A364G</text>
<text transform="translate(1421.8 2298.9) rotate(-90) scale(1 1.04)" font-size="30" letter-spacing="-1.36">p.P366R</text>
<text transform="translate(1486.7 2403.9) rotate(-90) scale(1 1.04)" font-size="30" letter-spacing="-1.35">p.E369_T372dup</text>
<text transform="translate(1553.5 2404.9) rotate(-90) scale(1 1.04)" font-size="30" letter-spacing="-1.39">p.A371_P374dup</text>
<text transform="translate(1626.6 2297.9) rotate(-90) scale(1 1.04)" font-size="30" letter-spacing="-1.28">p.P376S</text>
</svg>
</body>
</html>
